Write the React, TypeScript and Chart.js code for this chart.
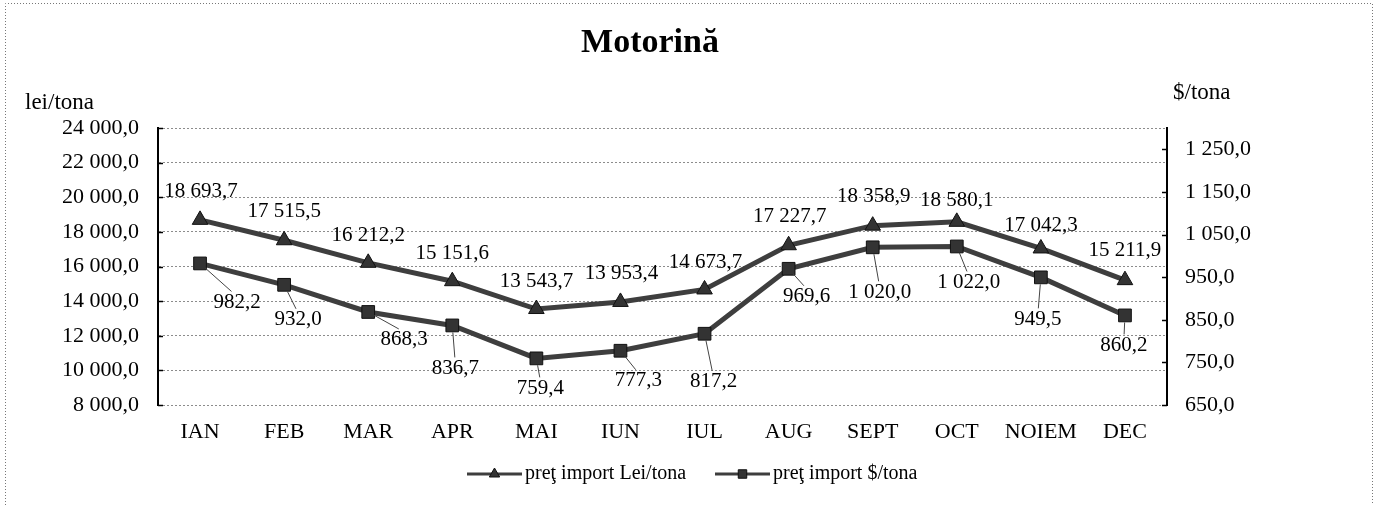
import React, { useEffect, useRef } from "react";
import { Chart, registerables } from "chart.js";

Chart.register(...registerables);

// ---- data ----
const months = ["IAN", "FEB", "MAR", "APR", "MAI", "IUN", "IUL", "AUG", "SEPT", "OCT", "NOIEM", "DEC"];
const leiPerTon = [18693.7, 17515.5, 16212.2, 15151.6, 13543.7, 13953.4, 14673.7, 17227.7, 18358.9, 18580.1, 17042.3, 15211.9];
const usdPerTon = [982.2, 932.0, 868.3, 836.7, 759.4, 777.3, 817.2, 969.6, 1020.0, 1022.0, 949.5, 860.2];
const leftTicks = [8000, 10000, 12000, 14000, 16000, 18000, 20000, 22000, 24000];
const rightTicks = [650, 750, 850, 950, 1050, 1150, 1250];
const seriesNames = ["preţ import Lei/tona", "preţ import $/tona"];
const chartTitle = "Motorină";
const leftAxisTitle = "lei/tona";
const rightAxisTitle = "$/tona";

// ---- label placement (layout only, pixel offsets from the point) ----
const leiLabelOffsets = [[1, -28], [0, -29], [0, -27], [0, -28], [0, -28], [1, -28], [1, -27], [1, -29], [1, -29], [0, -21], [0, -23], [0, -30]];
const usdLabelOffsets = [[37, 39], [14, 35], [36, 28], [3, 43], [4, 30], [18, 30], [9, 48], [18, 28], [7, 45], [12, 36], [-3, 42], [-1, 30]];

const SERIF = "'Liberation Serif', 'Times New Roman', serif";
const W = 1378;
const H = 505;

function fmt(v: number): string {
  const [i, d] = v.toFixed(1).split(".");
  return i.replace(/\B(?=(\d{3})+(?!\d))/g, " ") + "," + d;
}

function drawMarker(ctx: CanvasRenderingContext2D, style: string, x: number, y: number, r: number, fill: string, stroke: string) {
  ctx.save();
  ctx.fillStyle = fill;
  ctx.strokeStyle = stroke;
  ctx.lineWidth = 1;
  ctx.beginPath();
  if (style === "triangle") {
    ctx.moveTo(x, y - r);
    ctx.lineTo(x + r * 0.866, y + r * 0.5);
    ctx.lineTo(x - r * 0.866, y + r * 0.5);
    ctx.closePath();
  } else {
    const s = r * Math.SQRT1_2;
    ctx.rect(x - s, y - s, 2 * s, 2 * s);
  }
  ctx.fill();
  ctx.stroke();
  ctx.restore();
}

const decorPlugin = {
  id: "decor",
  afterDatasetsDraw(chart: any) {
    const ctx: CanvasRenderingContext2D = chart.ctx;
    ctx.save();
    ctx.font = `21px ${SERIF}`;
    ctx.fillStyle = "#000";
    ctx.textAlign = "center";
    ctx.textBaseline = "middle";
    const offsetsList = [leiLabelOffsets, usdLabelOffsets];
    chart.data.datasets.forEach((ds: any, di: number) => {
      const meta = chart.getDatasetMeta(di);
      meta.data.forEach((pt: any, i: number) => {
        const [dx, dy] = offsetsList[di][i];
        const lx = pt.x + dx;
        const ly = pt.y + dy;
        if (di === 1) {
          // leader line
          const ex = lx - dx * 0.15;
          const ey = ly - 11;
          const vx = ex - pt.x;
          const vy = ey - pt.y;
          const len = Math.hypot(vx, vy);
          if (len > 12) {
            ctx.save();
            ctx.strokeStyle = "#444";
            ctx.lineWidth = 1;
            ctx.beginPath();
            ctx.moveTo(pt.x + (vx / len) * 7, pt.y + (vy / len) * 7);
            ctx.lineTo(ex, ey);
            ctx.stroke();
            ctx.restore();
          }
        }
        ctx.fillText(fmt(ds.data[i]), lx, ly);
      });
    });
    ctx.restore();
  },
  afterDraw(chart: any) {
    const ctx: CanvasRenderingContext2D = chart.ctx;
    const area = chart.chartArea;
    ctx.save();

    // outer dotted frame
    ctx.strokeStyle = "#777";
    ctx.lineWidth = 1;
    ctx.setLineDash([1, 2]);
    ctx.beginPath();
    ctx.moveTo(5.5, H);
    ctx.lineTo(5.5, 3.5);
    ctx.lineTo(1372.5, 3.5);
    ctx.lineTo(1372.5, H);
    ctx.stroke();
    ctx.setLineDash([]);

    // title
    ctx.fillStyle = "#000";
    ctx.font = `bold 34px ${SERIF}`;
    ctx.textAlign = "center";
    ctx.textBaseline = "middle";
    ctx.fillText(chartTitle, 650, 43);

    // axis titles
    ctx.font = `23px ${SERIF}`;
    ctx.textAlign = "left";
    ctx.fillText(leftAxisTitle, 25, 103);
    ctx.fillText(rightAxisTitle, 1173, 93);

    // inward tick marks
    ctx.strokeStyle = "#000";
    ctx.lineWidth = 1.5;
    const yL = chart.scales.y;
    const yR = chart.scales.y1;
    leftTicks.forEach((v) => {
      const py = Math.round(yL.getPixelForValue(v)) + 0.5;
      ctx.beginPath();
      ctx.moveTo(area.left, py);
      ctx.lineTo(area.left + 5, py);
      ctx.stroke();
    });
    rightTicks.forEach((v) => {
      const py = Math.round(yR.getPixelForValue(v)) + 0.5;
      ctx.beginPath();
      ctx.moveTo(area.right - 5, py);
      ctx.lineTo(area.right, py);
      ctx.stroke();
    });

    // legend
    const legendX = [467, 715];
    const legendY = 474;
    chart.data.datasets.forEach((ds: any, di: number) => {
      const x0 = legendX[di];
      const x1 = x0 + 55;
      ctx.save();
      ctx.strokeStyle = ds.borderColor;
      ctx.lineWidth = 3;
      ctx.beginPath();
      ctx.moveTo(x0, legendY);
      ctx.lineTo(x1, legendY);
      ctx.stroke();
      ctx.restore();
      drawMarker(ctx, ds.pointStyle, (x0 + x1) / 2, legendY, 6, ds.pointBackgroundColor, ds.pointBorderColor);
      ctx.fillStyle = "#000";
      ctx.font = `20px ${SERIF}`;
      ctx.textAlign = "left";
      ctx.textBaseline = "middle";
      ctx.fillText(ds.label, x1 + 3, legendY);
    });

    ctx.restore();
  },
};

export default function App() {
  const canvasRef = useRef<HTMLCanvasElement | null>(null);

  useEffect(() => {
    if (!canvasRef.current) return;
    const chart = new Chart(canvasRef.current, {
      type: "line",
      data: {
        labels: months,
        datasets: [
          {
            label: seriesNames[0],
            data: leiPerTon,
            yAxisID: "y",
            borderColor: "#3e3e3e",
            borderWidth: 5,
            pointStyle: "triangle",
            pointRadius: 9,
            pointBackgroundColor: "#333",
            pointBorderColor: "#111",
            pointBorderWidth: 1,
            tension: 0,
          },
          {
            label: seriesNames[1],
            data: usdPerTon,
            yAxisID: "y1",
            borderColor: "#3e3e3e",
            borderWidth: 5,
            pointStyle: "rect",
            pointRadius: 9,
            pointBackgroundColor: "#333",
            pointBorderColor: "#111",
            pointBorderWidth: 1,
            tension: 0,
          },
        ],
      },
      options: {
        animation: false,
        responsive: false,
        devicePixelRatio: 1,
        layout: { padding: { top: 128, bottom: 0, left: 0, right: 0 } },
        plugins: {
          legend: { display: false },
          title: { display: false },
          tooltip: { enabled: false },
        },
        scales: {
          x: {
            type: "category",
            offset: true,
            grid: { display: false, drawTicks: false },
            border: { display: false },
            ticks: {
              font: { family: SERIF, size: 22 },
              color: "#000",
              padding: 14,
              maxRotation: 0,
              autoSkip: false,
            },
            afterFit(s: any) {
              s.height = 100;
            },
          },
          y: {
            position: "left",
            min: 8000,
            max: 24000,
            afterBuildTicks(s: any) {
              s.ticks = leftTicks.map((v) => ({ value: v }));
            },
            grid: { color: "#8c8c8c", lineWidth: 1, drawTicks: false },
            border: { display: true, color: "#000", width: 2, dash: [2, 2] },
            ticks: {
              font: { family: SERIF, size: 22 },
              color: "#000",
              padding: 19,
              callback: (v: any) => fmt(Number(v)),
            },
            afterFit(s: any) {
              s.width = 158;
            },
          },
          y1: {
            position: "right",
            min: 650,
            max: 1300,
            afterBuildTicks(s: any) {
              s.ticks = rightTicks.map((v) => ({ value: v }));
            },
            grid: { display: false, drawTicks: false },
            border: { display: true, color: "#000", width: 2 },
            ticks: {
              font: { family: SERIF, size: 22 },
              color: "#000",
              padding: 18,
              callback: (v: any) => fmt(Number(v)),
            },
            afterFit(s: any) {
              s.width = W - 1167;
            },
          },
        },
      },
      plugins: [decorPlugin],
    });
    return () => chart.destroy();
  }, []);

  return (
    <div style={{ position: "fixed", left: 0, top: 0, width: W, height: H, background: "#fff" }}>
      <canvas ref={canvasRef} width={W} height={H} style={{ display: "block" }} />
    </div>
  );
}
